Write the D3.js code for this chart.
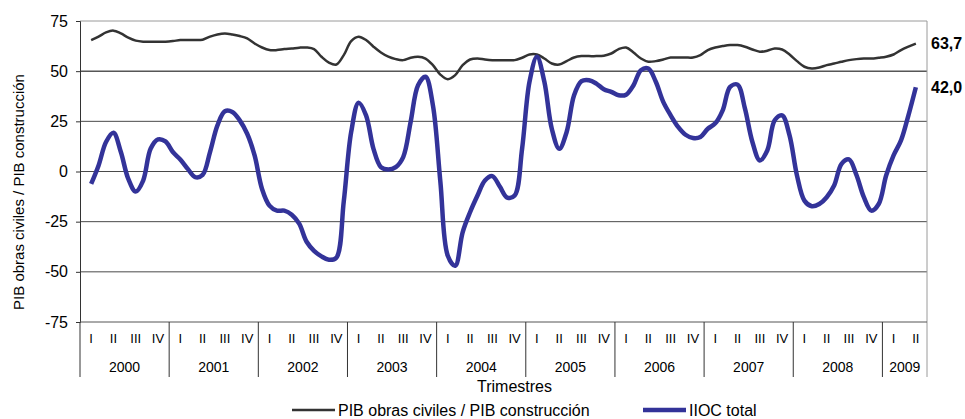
<!DOCTYPE html>
<html>
<head>
<meta charset="utf-8">
<script src="https://d3js.org/d3.v7.min.js"></script>
<style>
  body { margin: 0; background: #fff; }
  text { font-family: "Liberation Sans", Arial, sans-serif; fill: #000; }
</style>
</head>
<body>
<div id="chart"></div>
<script>
let svgWidth = 965;
let svgHeight = 419;
let margin = { top: 21, right: 38, bottom: 97, left: 80 };
let width = svgWidth - margin.left - margin.right;
let height = svgHeight - margin.top - margin.bottom;

// Data (monthly readings, first one at the middle of 2000-I, last at the middle of 2009-II)

let years = ["2000", "2001", "2002", "2003", "2004", "2005", "2006", "2007", "2008", "2009"];
let quarterNames = ["I", "II", "III", "IV"];
let yTicks = [-75, -50, -25, 0, 25, 50, 75];
let firstMonth = 1;

let obrasCiviles = [
  65.5, 67.2, 69.3, 70.2, 68.8, 66.7, 65.2, 64.7, 64.7, 64.7, 64.7, 65.0,
  65.5, 65.5, 65.5, 65.7, 67.2, 68.3, 68.8, 68.3, 67.5, 66.3, 63.8, 61.8,
  60.5, 60.5, 61.0, 61.3, 61.7, 61.8, 61.0, 57.2, 54.3, 53.3, 58.0, 65.0,
  67.2, 65.5, 62.2, 59.3, 57.2, 56.0, 55.5, 56.7, 57.2, 56.3, 53.0, 48.3,
  46.0, 48.0, 53.0, 55.8, 56.3, 55.8, 55.5, 55.5, 55.5, 55.5, 56.7, 58.3,
  58.3, 56.3, 53.8, 53.3, 55.0, 56.8, 57.5, 57.5, 57.5, 57.7, 58.8, 61.0,
  61.8, 59.3, 56.3, 54.7, 55.0, 55.8, 56.8, 56.8, 56.8, 56.8, 58.0, 60.5,
  61.8, 62.5, 63.0, 63.0, 62.2, 60.8, 59.7, 60.2, 61.3, 60.8, 58.3, 55.0,
  52.2, 51.3, 51.8, 53.0, 53.8, 54.7, 55.5, 56.0, 56.3, 56.3, 56.7, 57.2,
  58.3, 60.5, 62.2, 63.7
];

let iiocTotal = [
  -6.2, 3.0, 14.7, 19.3, 9.7, -3.7, -10.0, -4.5, 11.3, 16.0, 15.0, 9.7,
  6.0, 1.3, -2.8, -1.7, 9.7, 23.0, 30.0, 29.7, 25.5, 18.8, 8.0, -8.7,
  -17.0, -19.5, -19.5, -21.5, -26.0, -35.0, -39.5, -42.3, -44.0, -43.0, -15.0, 19.7,
  34.3, 28.0, 11.3, 2.2, 1.0, 2.2, 7.2, 24.7, 43.0, 47.2, 33.0, -5.0,
  -42.0, -47.0, -30.3, -20.3, -12.0, -4.5, -2.3, -7.5, -13.0, -12.0, 11.3, 44.7,
  57.2, 44.7, 21.3, 11.3, 19.7, 38.0, 45.0, 45.5, 43.8, 41.0, 39.7, 38.0,
  38.3, 43.0, 50.5, 51.3, 44.7, 34.7, 28.0, 22.2, 18.3, 16.7, 17.2, 21.3,
  24.0, 30.5, 42.2, 43.3, 31.3, 14.7, 5.5, 10.5, 25.5, 28.0, 18.0, -2.0,
  -14.5, -17.3, -16.2, -12.8, -7.0, 3.8, 6.0, -1.7, -12.8, -19.5, -16.2, -2.0,
  8.0, 15.5, 28.0, 42.0
];

let seriesNames = ["PIB obras civiles / PIB construcción", "IIOC total"];
let endLabels = ["63,7", "42,0"];

// Quarters shown on the axis: 2000-I ... 2009-II

let quarters = [];
years.forEach(y => {
  let n = (y === "2009") ? 2 : 4;
  for (let q = 0; q < n; q++) quarters.push({ year: y, q: quarterNames[q], key: y + "-" + q });
});

let svg = d3.select("#chart").append("svg").attr("width", svgWidth).attr("height", svgHeight);
let chartGroup = svg.append("g").attr("transform", `translate(${margin.left}, ${margin.top})`);

// Scales

let xBand = d3.scaleBand().domain(quarters.map(d => d.key)).range([0, width]);
let xMonth = d3.scaleLinear().domain([0, quarters.length * 3]).range([0, width]);
let yScale = d3.scaleLinear().domain([-75, 75]).range([height, 0]);

// Gridlines

chartGroup.append("g")
  .selectAll("line")
  .data(yTicks.filter(d => d > -75 && d < 75))
  .enter()
  .append("line")
  .attr("x1", 0)
  .attr("x2", width)
  .attr("y1", d => yScale(d))
  .attr("y2", d => yScale(d))
  .attr("stroke", d => d === 50 ? "#000" : "#4a4a4a")
  .attr("stroke-width", 1);

// Frame (top / right in light grey)

chartGroup.append("line")
  .attr("x1", 0).attr("x2", width)
  .attr("y1", yScale(75)).attr("y2", yScale(75))
  .attr("stroke", "#9a9a9a");
chartGroup.append("line")
  .attr("x1", width).attr("x2", width)
  .attr("y1", 0).attr("y2", height + 55)
  .attr("stroke", "#9a9a9a");

// Y axis (plain hyphen minus, as in the original)

let yAxis = chartGroup.append("g")
  .call(d3.axisLeft(yScale).tickValues(yTicks).tickFormat(d => String(d)).tickSize(4).tickPadding(8));
yAxis.select(".domain").attr("stroke", "#333");
yAxis.selectAll(".tick line").attr("stroke", "#333");
yAxis.selectAll("text")
  .style("font-size", "16px")
  .style("font-family", "'Liberation Sans', Arial, sans-serif")
  .attr("fill", "#000");

// bottom line of the plot and left line extended down through the category area
chartGroup.append("line")
  .attr("x1", 0).attr("x2", width)
  .attr("y1", height).attr("y2", height)
  .attr("stroke", "#555");
chartGroup.append("line")
  .attr("x1", 0).attr("x2", 0)
  .attr("y1", height).attr("y2", height + 55)
  .attr("stroke", "#333");

// X categories: quarters and years

let xAxisGroup = chartGroup.append("g").attr("transform", `translate(0, ${height})`);

xAxisGroup.selectAll(".qlabel")
  .data(quarters)
  .enter()
  .append("text")
  .attr("class", "qlabel")
  .attr("x", d => xBand(d.key) + xBand.bandwidth() / 2)
  .attr("y", 21)
  .attr("text-anchor", "middle")
  .style("font-size", "13px")
  .text(d => d.q);

let yearSpans = years.map(y => {
  let qs = quarters.filter(d => d.year === y);
  let x0 = xBand(qs[0].key);
  let x1 = xBand(qs[qs.length - 1].key) + xBand.bandwidth();
  return { year: y, x0: x0, x1: x1 };
});

xAxisGroup.selectAll(".ylabel")
  .data(yearSpans)
  .enter()
  .append("text")
  .attr("class", "ylabel")
  .attr("x", d => (d.x0 + d.x1) / 2)
  .attr("y", 50)
  .attr("text-anchor", "middle")
  .style("font-size", "14px")
  .text(d => d.year);

xAxisGroup.selectAll(".sep")
  .data(yearSpans.slice(1))
  .enter()
  .append("line")
  .attr("class", "sep")
  .attr("x1", d => d.x0)
  .attr("x2", d => d.x0)
  .attr("y1", 0)
  .attr("y2", 55)
  .attr("stroke", "#333");

// Axis titles

chartGroup.append("text")
  .attr("x", width / 2 + 11)
  .attr("y", height + 70)
  .attr("text-anchor", "middle")
  .style("font-size", "16px")
  .text("Trimestres");

svg.append("text")
  .attr("transform", "translate(24, 192) rotate(-90)")
  .attr("text-anchor", "middle")
  .style("font-size", "15px")
  .text(seriesNames[0]);

// Lines

let line = d3.line()
  .x((d, i) => xMonth(firstMonth + i + 0.5))
  .y(d => yScale(d))
  .curve(d3.curveCatmullRom.alpha(0.5));

chartGroup.append("path")
  .datum(obrasCiviles)
  .attr("d", line)
  .attr("fill", "none")
  .attr("stroke", "#333333")
  .attr("stroke-width", 2.5);

chartGroup.append("path")
  .datum(iiocTotal)
  .attr("d", line)
  .attr("fill", "none")
  .attr("stroke", "#333399")
  .attr("stroke-width", 4.5);

// End values

[obrasCiviles, iiocTotal].forEach((s, i) => {
  chartGroup.append("text")
    .attr("x", width + 4)
    .attr("y", yScale(s[s.length - 1]))
    .attr("dy", "0.35em")
    .style("font-size", "16px")
    .style("font-weight", "bold")
    .text(endLabels[i]);
});

// Legend

let legend = svg.append("g").attr("transform", "translate(0, 410)");
let legendItems = [
  { x: 292, color: "#333333", w: 2.5, text: seriesNames[0] },
  { x: 643, color: "#333399", w: 4.5, text: seriesNames[1] }
];
legendItems.forEach(d => {
  legend.append("line")
    .attr("x1", d.x).attr("x2", d.x + 43)
    .attr("y1", 0).attr("y2", 0)
    .attr("stroke", d.color)
    .attr("stroke-width", d.w);
  legend.append("text")
    .attr("x", d.x + 46)
    .attr("y", 6)
    .style("font-size", "16px")
    .text(d.text);
});
</script>
</body>
</html>
